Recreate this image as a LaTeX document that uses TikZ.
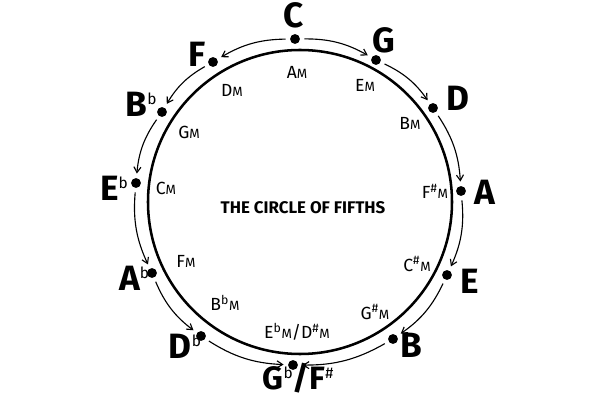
\documentclass[tikz,border=0pt]{standalone}
\usepackage{fontspec}
\setmainfont{Fira Sans}
\usetikzlibrary{arrows.meta}

% accidental placed high after a big letter
\newcommand{\acc}[1]{\raisebox{0.62ex}{\fontsize{11}{11}\selectfont\mdseries #1}}
% minor key: letter with a small M
\newcommand{\mkey}[1]{#1{\fontsize{9.5}{10}\selectfont M}}

\begin{document}
\begin{tikzpicture}[
    x=0.025cm, y=-0.025cm,
    dot/.style={circle, fill=black, inner sep=0pt, minimum size=7pt},
    major/.style={font=\fontsize{25}{28}\selectfont\bfseries, inner sep=0pt},
    minor/.style={font=\fontsize{12.5}{14}\selectfont, inner sep=0pt},
    title/.style={font=\fontsize{12}{14}\selectfont\bfseries, inner sep=0pt},
    arrow/.style={-{Straight Barb[length=4pt, width=5pt]}, line width=0.8pt,
                  shorten <=3pt, shorten >=3pt}
  ]
  \fill[white] (0,0) rectangle (600,400);
  \useasboundingbox (0,0) rectangle (600,400);

  \draw[line width=1.8pt] (300,202) circle[radius=152];
  \node[title] (name) at (303,208) {THE CIRCLE OF FIFTHS};

  % dots on the circle
  \node[dot] (c) at (295,39) {};
  \node[dot] (g) at (376,60) {};
  \node[dot] (d) at (433,108) {};
  \node[dot] (a) at (461,191) {};
  \node[dot] (e) at (447,275) {};
  \node[dot] (b) at (393,339) {};
  \node[dot] (gf) at (293,365) {};
  \node[dot] (db) at (201,336) {};
  \node[dot] (ab) at (152,273) {};
  \node[dot] (eb) at (136,183) {};
  \node[dot] (bb) at (162,112) {};
  \node[dot] (f) at (213,62) {};

  % major keys
  \node[major] (lc) at (294,15) {C};
  \node[major] (lg) at (384,40) {G};
  \node[major] (ld) at (458,98) {D};
  \node[major] (la) at (485,192) {A};
  \node[major] (le) at (470,281) {E};
  \node[major] (lb) at (411,345) {B};
  \node[major, font=\fontsize{23}{26}\selectfont\bfseries] (lgf) at (298,378) {G\acc{b}/F\acc{\#}};
  \node[major] (ldb) at (185,346) {D\acc{b}};
  \node[major] (lab) at (134,278) {A\acc{b}};
  \node[major] (leb) at (114,188) {E\acc{b}};
  \node[major] (lbb) at (141,104) {B\acc{b}};
  \node[major] (lf) at (197,54) {F};

  % relative minors
  \node[minor] (am) at (297,72) {\mkey{A}};
  \node[minor] (em) at (365,85) {\mkey{E}};
  \node[minor] (bm) at (410,123) {\mkey{B}};
  \node[minor] (fsm) at (435,191) {\mkey{F\textsuperscript{\#}}};
  \node[minor] (csm) at (417,264) {\mkey{C\textsuperscript{\#}}};
  \node[minor] (gsm) at (375,312) {\mkey{G\textsuperscript{\#}}};
  \node[minor] (ebm) at (297,332) {\mkey{E\textsuperscript{b}}/\mkey{D\textsuperscript{\#}}};
  \node[minor] (bbm) at (225,303) {\mkey{B\textsuperscript{b}}};
  \node[minor] (fm) at (186,261) {\mkey{F}};
  \node[minor] (cm) at (166,188) {\mkey{C}};
  \node[minor] (gm) at (189,132) {\mkey{G}};
  \node[minor] (dm) at (232,90) {\mkey{D}};

  % fifths going up
  \draw[arrow] (c) to[bend left=15] (g);
  \draw[arrow] (g) to[bend left=15] (d);
  \draw[arrow] (d) to[bend left=15] (a);
  \draw[arrow] (a) to[bend left=15] (e);
  \draw[arrow] (e) to[bend left=15] (b);
  \draw[arrow] (b) to[bend left=15] (gf);
  % fourths going down
  \draw[arrow] (c) to[bend right=15] (f);
  \draw[arrow] (f) to[bend right=15] (bb);
  \draw[arrow] (bb) to[bend right=15] (eb);
  \draw[arrow] (eb) to[bend right=15] (ab);
  \draw[arrow] (ab) to[bend right=15] (db);
  \draw[arrow] (db) to[bend right=15] (gf);
\end{tikzpicture}
\end{document}
